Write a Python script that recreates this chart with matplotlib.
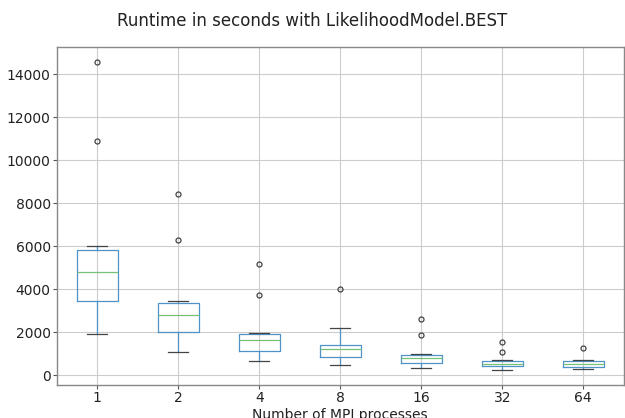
import matplotlib
matplotlib.use("Agg")
import matplotlib.pyplot as plt

# valores
procesos = ["1", "2", "4", "8", "16", "32", "64"]
minimos = [1900, 1100, 650, 480, 330, 265, 310]
q1 = [3440, 2000, 1130, 850, 590, 430, 400]
medianas = [4790, 2790, 1630, 1240, 790, 540, 510]
q3 = [5810, 3350, 1940, 1430, 945, 670, 650]
maximos = [6000, 3440, 1985, 2220, 980, 700, 730]
atipicos = [[14550, 10900], [8430, 6280], [5150, 3750], [4000],
            [2620, 1850], [1530, 1080], [1270]]

stats = []
for i, p in enumerate(procesos):
    stats.append({
        "label": p,
        "whislo": minimos[i],
        "q1": q1[i],
        "med": medianas[i],
        "q3": q3[i],
        "whishi": maximos[i],
        "fliers": atipicos[i],
    })

lw = 0.9
plt.rcParams["axes.linewidth"] = 1.0
plt.rcParams["axes.edgecolor"] = "#888888"
plt.rcParams["xtick.major.size"] = 2.6
plt.rcParams["ytick.major.size"] = 2.6
plt.rcParams["xtick.major.pad"] = 1.8
plt.rcParams["ytick.major.pad"] = 1.8
plt.rcParams["xtick.color"] = "#555555"
plt.rcParams["ytick.color"] = "#555555"
plt.rcParams["xtick.labelcolor"] = "#222222"
plt.rcParams["ytick.labelcolor"] = "#222222"

fig = plt.figure(figsize=(6.25, 4.18), dpi=100)
ax = fig.add_axes([0.091, 0.079, 0.907, 0.809])
ax.bxp(stats,
       boxprops=dict(color="#4f93c8", linewidth=lw),
       whiskerprops=dict(color="#4f93c8", linewidth=lw),
       medianprops=dict(color="#75c275", linewidth=lw),
       capprops=dict(color="#444444", linewidth=lw),
       flierprops=dict(markeredgecolor="#444444", markersize=3.6,
                       markeredgewidth=0.9))
ax.grid(True, color="#cccccc", linewidth=0.8)
ax.tick_params(labelsize=10)
ax.set_xlabel("Number of MPI processes", fontsize=10, labelpad=2, color="#222222")
fig.suptitle("Runtime in seconds with LikelihoodModel.BEST", y=0.972,
             fontsize=12, color="#222222")

fig.savefig("out.png", dpi=100)
